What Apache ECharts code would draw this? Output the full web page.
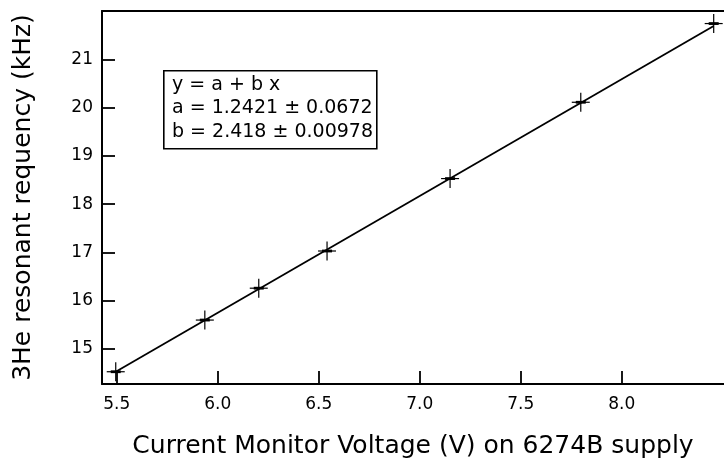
<!DOCTYPE html>
<html>
<head>
<meta charset="utf-8">
<script src="https://cdn.jsdelivr.net/npm/echarts@6/dist/echarts.min.js"></script>
<style>html,body{margin:0;padding:0;background:#fff;}#c{width:724px;height:464px;}</style>
</head>
<body>
<div id="c"></div>
<script>
// Measured points: Current Monitor Voltage (V) vs 3He resonant frequency (kHz)
const voltage = [5.495, 5.936, 6.203, 6.541, 7.150, 7.797, 8.455];
const frequency = [14.53, 15.60, 16.26, 17.03, 18.53, 20.11, 21.74];
// Fit line end points (y = a + b x)
const fitX = [5.495, 8.455];
const fitY = [14.53, 21.69];
const xTicks = [5.5, 6.0, 6.5, 7.0, 7.5, 8.0];
const yTicks = [15, 16, 17, 18, 19, 20, 21];
const fitLines = ['y = a + b x', 'a = 1.2421 \u00b1 0.0672', 'b = 2.418 \u00b1 0.00978'];
const xTitle = 'Current Monitor Voltage (V) on 6274B supply';
const yTitle = '3He resonant requency (kHz)';

const FONT = 'DejaVu Sans';
const chart = echarts.init(document.getElementById('c'), null, {renderer: 'canvas'});

const points = voltage.map((v, i) => [v, frequency[i]]);
const fitData = fitX.map((v, i) => [v, fitY[i]]);

chart.setOption({
  animation: false,
  backgroundColor: '#fff',
  grid: {left: 102, top: 11, right: 0, bottom: 80, containLabel: false},
  xAxis: [{
    type: 'value', min: 5.427, max: 8.506,
    name: xTitle, nameLocation: 'middle', nameGap: 50,
    nameTextStyle: {fontFamily: FONT, fontSize: 25, color: '#000'},
    axisLine: {show: true, onZero: false, lineStyle: {color: '#000', width: 2}},
    axisTick: {show: true, inside: true, length: 13, lineStyle: {color: '#000', width: 1.8}, customValues: xTicks},
    axisLabel: {show: true, margin: 12, fontFamily: FONT, fontSize: 17, color: '#000',
      customValues: xTicks, formatter: v => Number(v).toFixed(1)},
    splitLine: {show: false}
  }, {
    type: 'value', position: 'top', min: 5.427, max: 8.506,
    axisLine: {show: true, onZero: false, lineStyle: {color: '#000', width: 2}},
    axisTick: {show: false}, axisLabel: {show: false}, splitLine: {show: false}
  }],
  yAxis: {
    type: 'value', min: 14.276, max: 22.0,
    name: yTitle, nameLocation: 'middle', nameGap: 66, nameRotate: 90,
    nameTextStyle: {fontFamily: FONT, fontSize: 25, color: '#000'},
    axisLine: {show: true, onZero: false, lineStyle: {color: '#000', width: 2}},
    axisTick: {show: true, inside: true, length: 13, lineStyle: {color: '#000', width: 1.8}, customValues: yTicks},
    axisLabel: {show: true, margin: 9, fontFamily: FONT, fontSize: 17, color: '#000',
      customValues: yTicks, formatter: v => String(Math.round(v))},
    splitLine: {show: false}
  },
  series: [{
    type: 'line', data: fitData, xAxisIndex: 0, symbol: 'none',
    lineStyle: {color: '#000', width: 1.8}, z: 2
  }, {
    type: 'custom', data: points, xAxisIndex: 0, clip: false, z: 3,
    renderItem: function (params, api) {
      const p = api.coord([api.value(0), api.value(1)]);
      return {type: 'group', children: [
        {type: 'line', shape: {x1: p[0] - 9, y1: p[1], x2: p[0] + 9, y2: p[1]}, style: {stroke: '#000', lineWidth: 1.2}},
        {type: 'line', shape: {x1: p[0] - 5, y1: p[1], x2: p[0] + 5, y2: p[1]}, style: {stroke: '#000', lineWidth: 2.8}},
        {type: 'line', shape: {x1: p[0], y1: p[1] - 9.5, x2: p[0], y2: p[1] + 9.5}, style: {stroke: '#000', lineWidth: 1.2}}
      ]};
    }
  }],
  graphic: [{
    type: 'rect', left: 163, top: 70, z: 10,
    shape: {width: 213, height: 78},
    style: {fill: '#fff', stroke: '#000', lineWidth: 1.6}
  }].concat(fitLines.map((t, i) => ({
    type: 'text', x: 172, y: 85 + i * 23.5, z: 11,
    style: {text: t, fill: '#000', font: '19px "' + FONT + '"', textVerticalAlign: 'middle', verticalAlign: 'middle'}
  })))
});
</script>
</body>
</html>
